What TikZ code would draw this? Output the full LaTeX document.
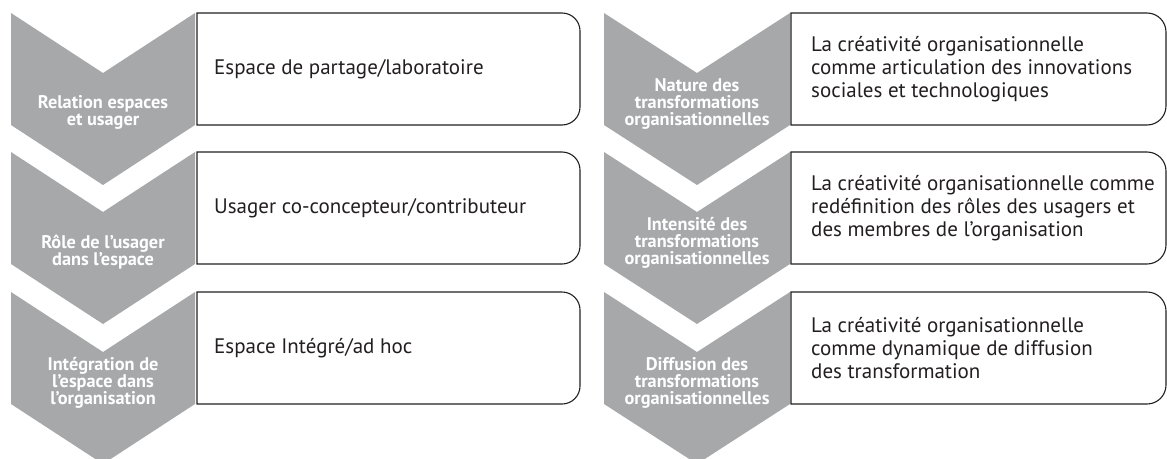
\documentclass[tikz,border=0pt]{standalone}
\usepackage{fontspec}
\setmainfont{PT Sans}
\definecolor{chevgray}{RGB}{167,168,170}
\definecolor{boxink}{RGB}{35,31,32}

\begin{document}
\begin{tikzpicture}[x=1pt, y=1pt,
chev/.style={fill=chevgray},
boxline/.style={draw=boxink, line width=1.1pt, fill=white},
chevtext/.style={anchor=south, align=center, text=white, inner sep=0pt, font=\bfseries\fontsize{18.3}{17}\selectfont},
boxtext/.style={anchor=west, align=left, text=boxink, inner sep=0pt, font=\fontsize{21}{23}\selectfont},
]
\useasboundingbox (0,0) rectangle (1167,-458);
\clip (0,0) rectangle (1167,-458);

% left column: chevrons
\fill[chev] (11,-13) -- (103,-73) -- (195,-13) -- (195,-125) -- (103,-185) -- (11,-125) -- cycle;
\fill[chev] (11,-152) -- (103,-212) -- (195,-152) -- (195,-264) -- (103,-324) -- (11,-264) -- cycle;
\fill[chev] (11,-292) -- (103,-352) -- (195,-292) -- (195,-404) -- (103,-464) -- (11,-404) -- cycle;

% left column: boxes, rounded on the right only
\draw[boxline] (197,-13) -- (562,-13) arc[start angle=90, end angle=0, radius=18pt] -- (580,-107) arc[start angle=0, end angle=-90, radius=18pt] -- (197,-125) -- cycle;
\draw[boxline] (197,-152) -- (562,-152) arc[start angle=90, end angle=0, radius=18pt] -- (580,-246) arc[start angle=0, end angle=-90, radius=18pt] -- (197,-264) -- cycle;
\draw[boxline] (197,-292) -- (562,-292) arc[start angle=90, end angle=0, radius=18pt] -- (580,-386) arc[start angle=0, end angle=-90, radius=18pt] -- (197,-404) -- cycle;

% right column: chevrons
\fill[chev] (604,-13) -- (697,-73) -- (790,-13) -- (790,-125) -- (697,-185) -- (604,-125) -- cycle;
\fill[chev] (604,-152) -- (697,-212) -- (790,-152) -- (790,-264) -- (697,-324) -- (604,-264) -- cycle;
\fill[chev] (604,-292) -- (697,-352) -- (790,-292) -- (790,-404) -- (697,-464) -- (604,-404) -- cycle;

% right column: boxes
\draw[boxline] (791,-13) -- (1147,-13) arc[start angle=90, end angle=0, radius=19pt] -- (1166,-106) arc[start angle=0, end angle=-90, radius=19pt] -- (791,-125) -- cycle;
\draw[boxline] (791,-152) -- (1147,-152) arc[start angle=90, end angle=0, radius=19pt] -- (1166,-245) arc[start angle=0, end angle=-90, radius=19pt] -- (791,-264) -- cycle;
\draw[boxline] (791,-292) -- (1147,-292) arc[start angle=90, end angle=0, radius=19pt] -- (1166,-385) arc[start angle=0, end angle=-90, radius=19pt] -- (791,-404) -- cycle;

% \node[chevtext](name) at (centre, bottom of the side){label}
\node[chevtext](relation) at (103,-130){Relation espaces\\et usager};
\node[chevtext](role) at (103,-269){Rôle de l’usager\\dans l’espace};
\node[chevtext](integration) at (103,-409){Intégration de\\l’espace dans\\l’organisation};
\node[chevtext](nature) at (697,-130){Nature des\\transformations\\organisationnelles};
\node[chevtext](intensite) at (697,-269){Intensité des\\transformations\\organisationnelles};
\node[chevtext](diffusion) at (697,-409){Diffusion des\\transformations\\organisationnelles};

% texts in the boxes
\node[boxtext](partage) at (214,-69){Espace de partage/laboratoire};
\node[boxtext](usager) at (214,-208){Usager co-concepteur/contributeur};
\node[boxtext](integre) at (214,-348){Espace Intégré/ad hoc};
\node[boxtext](articulation) at (811,-69){La créativité organisationnelle\\comme articulation des innovations\\sociales et technologiques};
\node[boxtext](redefinition) at (811,-208){La créativité organisationnelle comme\\redéfinition des rôles des usagers et\\des membres de l’organisation};
\node[boxtext](dynamique) at (811,-348){La créativité organisationnelle\\comme dynamique de diffusion\\des transformation};

\end{tikzpicture}
\end{document}
